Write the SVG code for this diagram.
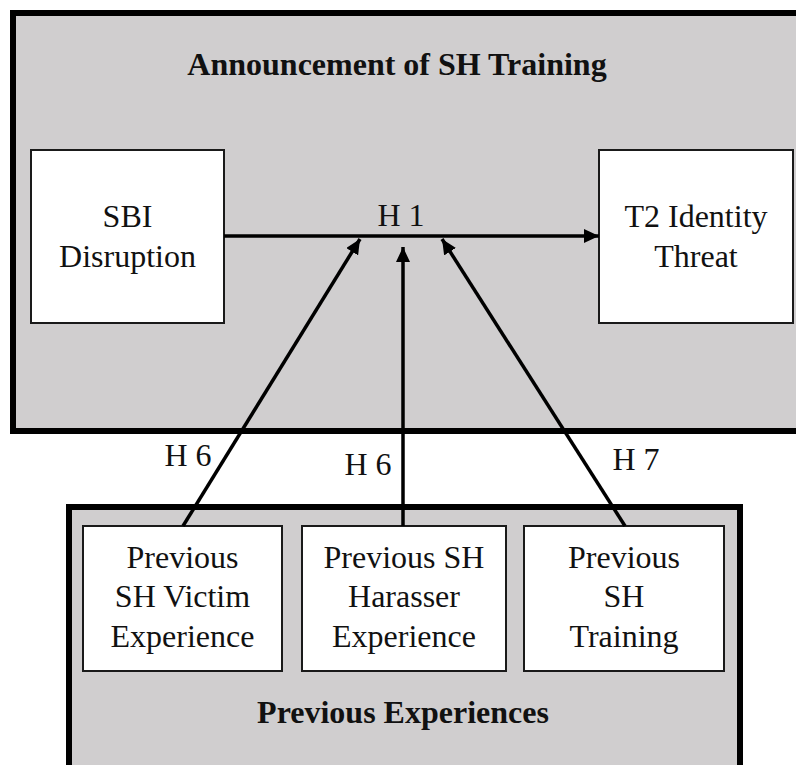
<svg xmlns="http://www.w3.org/2000/svg" width="796" height="765" viewBox="0 0 796 765">
  <style>
    .panel { fill: #d0cecf; stroke: #000; stroke-width: 6; }
    .box { fill: #fff; stroke: #1a1a1a; stroke-width: 2; }
    .lbl { font-family: "Liberation Serif", "Times New Roman", serif; font-size: 32px; fill: #111; text-anchor: middle; }
    .ttl { font-weight: bold; }
    .link { stroke: #000; stroke-width: 3.5; fill: none; }
  </style>
  <defs>
    <marker id="arrow" markerUnits="userSpaceOnUse" viewBox="0 0 15 14" markerWidth="15" markerHeight="14" refX="15" refY="7" orient="auto">
      <path d="M0,0 L15,7 L0,14 z" fill="#000"/>
    </marker>
  </defs>

  <!-- outer panels -->
  <g id="announcement">
    <rect class="panel" x="13" y="13" width="800" height="418"/>
    <text class="lbl ttl" x="397" y="75">Announcement of SH Training</text>
  </g>
  <g id="previous-experiences">
    <rect class="panel" x="69" y="507" width="671" height="280"/>
    <text class="lbl ttl" x="403" y="723">Previous Experiences</text>
  </g>

  <!-- nodes -->
  <g id="sbi-disruption">
    <rect class="box" x="31" y="150" width="193" height="173"/>
    <text class="lbl" x="127.5" y="227">SBI</text>
    <text class="lbl" x="127.5" y="267">Disruption</text>
  </g>
  <g id="t2-identity-threat">
    <rect class="box" x="599" y="150" width="194" height="173"/>
    <text class="lbl" x="696" y="227">T2 Identity</text>
    <text class="lbl" x="696" y="267">Threat</text>
  </g>
  <g id="victim-experience">
    <rect class="box" x="83" y="526" width="199" height="145"/>
    <text class="lbl" x="182.5" y="568">Previous</text>
    <text class="lbl" x="182.5" y="607">SH Victim</text>
    <text class="lbl" x="182.5" y="647">Experience</text>
  </g>
  <g id="harasser-experience">
    <rect class="box" x="302" y="526" width="204" height="145"/>
    <text class="lbl" x="404" y="568">Previous SH</text>
    <text class="lbl" x="404" y="607">Harasser</text>
    <text class="lbl" x="404" y="647">Experience</text>
  </g>
  <g id="sh-training">
    <rect class="box" x="524" y="526" width="200" height="145"/>
    <text class="lbl" x="624" y="568">Previous</text>
    <text class="lbl" x="624" y="607">SH</text>
    <text class="lbl" x="624" y="647">Training</text>
  </g>

  <!-- connectors -->
  <g id="connectors">
    <line class="link" x1="224" y1="236" x2="599" y2="236" marker-end="url(#arrow)"/>
    <line class="link" x1="183" y1="526" x2="360" y2="239" marker-end="url(#arrow)"/>
    <line class="link" x1="403" y1="526" x2="403" y2="247" marker-end="url(#arrow)"/>
    <line class="link" x1="625" y1="526" x2="442" y2="239" marker-end="url(#arrow)"/>
    <text class="lbl" x="401" y="226">H 1</text>
    <text class="lbl" x="188" y="466">H 6</text>
    <text class="lbl" x="368" y="475">H 6</text>
    <text class="lbl" x="636" y="470">H 7</text>
  </g>
</svg>
